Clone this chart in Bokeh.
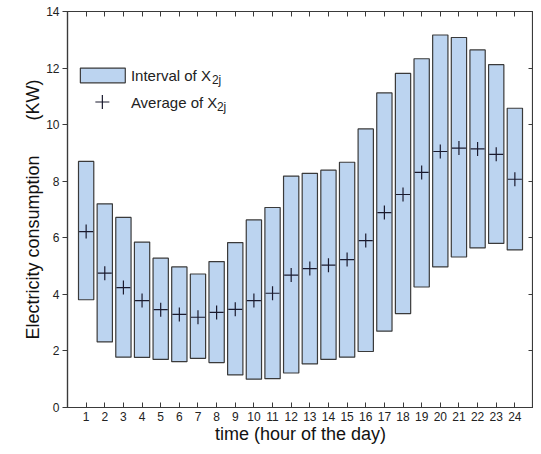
from bokeh.plotting import figure
from bokeh.models import LinearAxis, Range1d, FixedTicker, ColumnDataSource
from bokeh.core.properties import value
from bokeh.embed import file_html
from bokeh.resources import INLINE

hours = list(range(1, 25))
upper = [8.70, 7.20, 6.72, 5.85, 5.28, 4.97, 4.72, 5.16, 5.83, 6.63, 7.07, 8.18,
         8.28, 8.39, 8.67, 9.85, 11.12, 11.81, 12.33, 13.17, 13.08, 12.64, 12.12, 10.58]
lower = [3.81, 2.32, 1.78, 1.77, 1.70, 1.62, 1.74, 1.59, 1.15, 1.00, 1.02, 1.22,
         1.54, 1.70, 1.78, 1.98, 2.70, 3.32, 4.26, 4.97, 5.32, 5.64, 5.80, 5.57]
average = [6.22, 4.75, 4.24, 3.78, 3.46, 3.29, 3.19, 3.36, 3.47, 3.78, 4.04, 4.68,
           4.91, 5.03, 5.23, 5.90, 6.89, 7.53, 8.31, 9.05, 9.17, 9.14, 8.95, 8.07]
y_ticks = [0, 2, 4, 6, 8, 10, 12, 14]
legend_labels = ["Interval of X", "Average of X"]
legend_subs = ["2j", "2j"]

FONT = "Liberation Sans"
FILL = "#bcd4f0"
EDGE = "#3a3a3a"
TXT = "#222222"

src = ColumnDataSource(dict(x=hours, top=upper, bottom=lower, avg=average))

p = figure(width=533, height=446, output_backend="svg", toolbar_location=None,
           x_range=Range1d(0, 25), y_range=Range1d(0, 14),
           min_border_left=67, min_border_right=0, min_border_top=11, min_border_bottom=34,
           background_fill_color="white", border_fill_color="white")
p.grid.visible = False
p.outline_line_color = EDGE
p.outline_line_width = 1.2

p.vbar(x="x", top="top", bottom="bottom", width=0.82, source=src,
       fill_color=FILL, line_color=EDGE, line_width=1.2)
p.scatter(x="x", y="avg", source=src, marker="cross", size=14,
          line_color="#1a1a2e", line_width=1.2)

# legend drawn manually
p.quad(left=[0.69], right=[3.10], bottom=[11.48], top=[12.0],
       fill_color=FILL, line_color=EDGE, line_width=1.2)
p.scatter(x=[1.87], y=[10.8], marker="cross", size=14, line_color="#1a1a2e", line_width=1.2)
p.text(x=[3.40, 3.40], y=[11.74, 10.8], text=legend_labels,
       text_font=value(FONT), text_font_size="15px", text_baseline="middle",
       text_color=TXT)
p.text(x=[3.40, 3.40], y=[11.74, 10.8], text=legend_subs,
       x_offset=[81, 86], y_offset=[5, 5],
       text_font=value(FONT), text_font_size="12px", text_baseline="middle",
       text_color=TXT)

def style(ax):
    ax.axis_line_color = EDGE
    ax.axis_line_width = 1.2
    ax.major_tick_line_color = EDGE
    ax.minor_tick_line_color = None
    ax.major_label_text_font = FONT
    ax.major_label_text_font_size = "12px"
    ax.major_label_text_color = TXT
    ax.axis_label_text_font = FONT
    ax.axis_label_text_font_size = "18px"
    ax.axis_label_text_font_style = "normal"
    ax.axis_label_text_color = "#111111"

xa = p.xaxis[0]
xa.ticker = FixedTicker(ticks=hours)
style(xa)
xa.major_tick_in = 5
xa.major_tick_out = 0
xa.major_label_standoff = 4
xa.axis_label = "time (hour of the day)"
xa.axis_label_standoff = 0

ya = p.yaxis[0]
ya.ticker = FixedTicker(ticks=y_ticks)
style(ya)
ya.major_tick_in = 0
ya.major_tick_out = 5
ya.major_label_standoff = 3
ya.axis_label = "Electricity consumption" + "\u00a0" * 7 + "(KW)"
ya.axis_label_standoff = 0

top_ax = LinearAxis(ticker=FixedTicker(ticks=hours),
                    major_label_overrides={h: "" for h in hours})
style(top_ax)
top_ax.major_tick_in = 5
top_ax.major_tick_out = 0
top_ax.major_label_standoff = 0
top_ax.axis_label_standoff = 0
p.add_layout(top_ax, "above")

right_ax = LinearAxis(ticker=FixedTicker(ticks=y_ticks),
                      major_label_overrides={t: "" for t in y_ticks})
style(right_ax)
right_ax.major_tick_in = 5
right_ax.major_tick_out = 0
right_ax.major_label_standoff = 0
right_ax.axis_label_standoff = 0
p.add_layout(right_ax, "right")

open("out.html", "w").write(file_html(p, INLINE))
